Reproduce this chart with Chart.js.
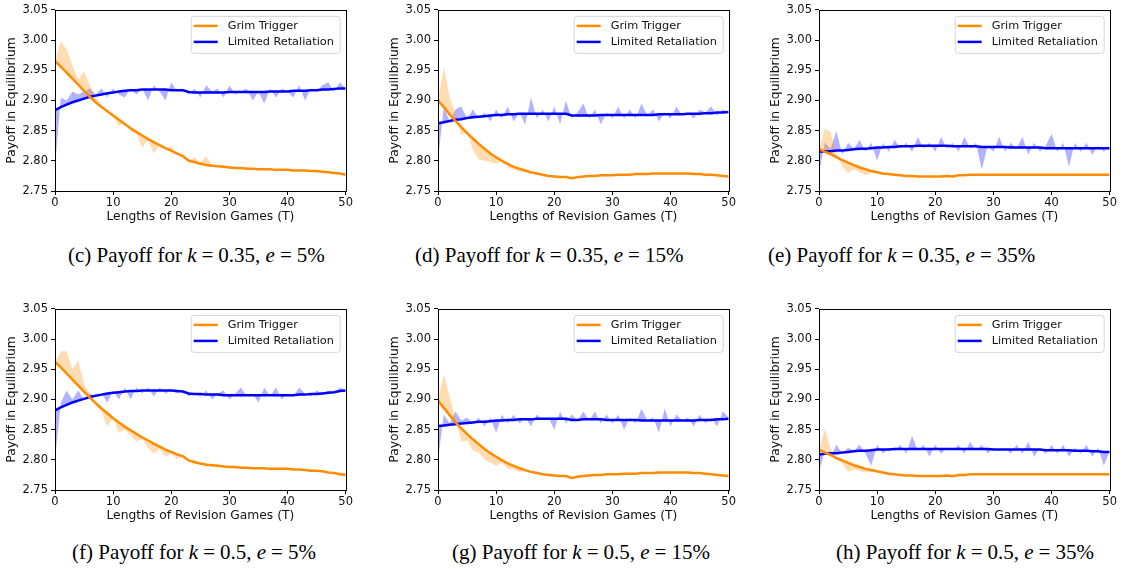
<!DOCTYPE html>
<html>
<head>
<meta charset="utf-8">
<script src="https://cdn.jsdelivr.net/npm/chart.js@4.4.0/dist/chart.umd.min.js"></script>
<style>
  body { margin: 0; background: #fff; width: 1131px; height: 569px; position: relative; overflow: hidden; }
  .panel { position: absolute; }
  .cap { position: absolute; font-family: "Liberation Serif", serif; font-size: 21px; white-space: nowrap; color: #000; }
  .cap .eq { padding: 0 5px; }
</style>
</head>
<body>
<div class="panel" id="pc"><canvas id="cc"></canvas></div>
<div class="panel" id="pd"><canvas id="cd"></canvas></div>
<div class="panel" id="pe"><canvas id="ce"></canvas></div>
<div class="panel" id="pf"><canvas id="cf"></canvas></div>
<div class="panel" id="pg"><canvas id="cg"></canvas></div>
<div class="panel" id="ph"><canvas id="ch"></canvas></div>

<div class="cap" style="left:68px;top:243px">(c) Payoff for <i>k</i><span class="eq">=</span>0.35, <i>e</i><span class="eq">=</span>5%</div>
<div class="cap" style="left:415px;top:243px">(d) Payoff for <i>k</i><span class="eq">=</span>0.35, <i>e</i><span class="eq">=</span>15%</div>
<div class="cap" style="left:768px;top:243px">(e) Payoff for <i>k</i><span class="eq">=</span>0.35, <i>e</i><span class="eq">=</span>35%</div>
<div class="cap" style="left:72px;top:540px">(f) Payoff for <i>k</i><span class="eq">=</span>0.5, <i>e</i><span class="eq">=</span>5%</div>
<div class="cap" style="left:452px;top:540px">(g) Payoff for <i>k</i><span class="eq">=</span>0.5, <i>e</i><span class="eq">=</span>15%</div>
<div class="cap" style="left:836px;top:540px">(h) Payoff for <i>k</i><span class="eq">=</span>0.5, <i>e</i><span class="eq">=</span>35%</div>

<script>
const lengthsT = [0,1,2,3,4,5,6,7,8,9,10,11,12,13,14,15,16,17,18,19,20,21,22,23,24,25,
  26,27,28,29,30,31,32,33,34,35,36,37,38,39,40,41,42,43,44,45,46,47,48,49,50];
const xTicks = [0, 10, 20, 30, 40, 50];
const yTicks = [2.75, 2.80, 2.85, 2.90, 2.95, 3.00, 3.05];
const seriesNames = ['Grim Trigger', 'Limited Retaliation'];

// (c) k = 0.35, e = 5%
const gtLineC = [2.965,2.956,2.946,2.936,2.926,2.916,2.906,2.897,2.889,2.882,
  2.875,2.868,2.861,2.854,2.848,2.842,2.836,2.831,2.826,2.821,
  2.817,2.812,2.808,2.800,2.798,2.795,2.793,2.792,2.791,2.790,
  2.789,2.788,2.788,2.787,2.787,2.786,2.786,2.786,2.785,2.785,
  2.785,2.784,2.784,2.784,2.783,2.783,2.782,2.781,2.780,2.779,2.777];
const gtRawC = [2.965,2.998,2.985,2.958,2.935,2.948,2.925,2.905,2.892,2.880,
  2.872,2.858,2.862,2.848,2.845,2.822,2.835,2.812,2.826,2.818,
  2.825,2.810,2.806,2.800,2.806,2.797,2.808,2.794,2.790,2.793,
  2.788,2.789,2.787,2.789,2.786,2.785,2.787,2.785,2.786,2.784,
  2.786,2.783,2.785,2.782,2.784,2.782,2.781,2.782,2.779,2.780,2.777];
const lrLineC = [2.884,2.889,2.893,2.897,2.900,2.903,2.906,2.908,2.910,2.912,
  2.913,2.915,2.916,2.917,2.917,2.918,2.918,2.918,2.918,2.918,
  2.917,2.917,2.917,2.914,2.913,2.913,2.913,2.913,2.913,2.913,
  2.914,2.914,2.914,2.914,2.914,2.914,2.914,2.915,2.915,2.915,
  2.915,2.916,2.916,2.916,2.917,2.917,2.918,2.918,2.919,2.920,2.920];
const lrRawC = [2.790,2.905,2.900,2.915,2.910,2.915,2.920,2.910,2.920,2.905,
  2.920,2.910,2.905,2.920,2.910,2.920,2.900,2.925,2.915,2.900,
  2.930,2.915,2.920,2.910,2.920,2.905,2.925,2.915,2.920,2.905,
  2.925,2.910,2.915,2.920,2.900,2.915,2.895,2.920,2.905,2.920,
  2.915,2.905,2.925,2.900,2.920,2.915,2.925,2.930,2.915,2.930,2.920];

// (d) k = 0.35, e = 15%
const gtLineD = [2.900,2.889,2.877,2.866,2.856,2.846,2.837,2.828,2.820,2.812,
  2.806,2.800,2.795,2.790,2.787,2.784,2.781,2.779,2.777,2.775,
  2.774,2.773,2.773,2.771,2.773,2.774,2.775,2.775,2.776,2.776,
  2.776,2.777,2.777,2.777,2.778,2.778,2.778,2.779,2.779,2.779,
  2.779,2.779,2.779,2.779,2.778,2.778,2.777,2.777,2.776,2.775,2.774];
const gtRawD = [2.900,2.955,2.905,2.880,2.842,2.850,2.818,2.802,2.800,2.798,
  2.795,2.800,2.789,2.785,2.782,2.781,2.778,2.780,2.775,2.776,
  2.776,2.775,2.774,2.771,2.775,2.774,2.776,2.775,2.777,2.776,
  2.777,2.777,2.778,2.777,2.778,2.778,2.779,2.779,2.779,2.780,
  2.779,2.780,2.779,2.779,2.778,2.778,2.777,2.777,2.776,2.775,2.774];
const lrLineD = [2.862,2.864,2.866,2.868,2.869,2.871,2.872,2.873,2.874,2.875,
  2.876,2.876,2.877,2.877,2.878,2.878,2.878,2.878,2.878,2.878,
  2.878,2.878,2.878,2.875,2.875,2.875,2.875,2.875,2.876,2.876,
  2.876,2.876,2.876,2.876,2.876,2.876,2.876,2.876,2.877,2.877,
  2.877,2.877,2.877,2.878,2.878,2.878,2.879,2.879,2.880,2.880,2.881];
const lrRawD = [2.800,2.890,2.865,2.885,2.890,2.870,2.885,2.870,2.880,2.865,
  2.885,2.870,2.890,2.865,2.880,2.860,2.905,2.870,2.885,2.865,
  2.890,2.860,2.900,2.870,2.880,2.895,2.870,2.885,2.860,2.880,
  2.870,2.890,2.870,2.885,2.870,2.895,2.875,2.885,2.865,2.880,
  2.870,2.890,2.875,2.880,2.870,2.885,2.880,2.890,2.875,2.885,2.880];

// (e) k = 0.35, e = 35%
const gtLineE = [2.820,2.815,2.811,2.806,2.801,2.797,2.793,2.789,2.786,2.783,
  2.781,2.779,2.778,2.777,2.776,2.775,2.775,2.774,2.774,2.774,
  2.774,2.774,2.775,2.774,2.776,2.776,2.777,2.777,2.777,2.777,
  2.777,2.777,2.777,2.777,2.777,2.777,2.777,2.777,2.777,2.777,
  2.777,2.777,2.777,2.777,2.777,2.777,2.777,2.777,2.777,2.777,2.777];
const gtRawE = [2.820,2.853,2.848,2.812,2.790,2.780,2.786,2.781,2.776,2.780,
  2.779,2.777,2.776,2.776,2.775,2.774,2.774,2.773,2.773,2.773,
  2.774,2.774,2.774,2.774,2.775,2.776,2.776,2.777,2.778,2.777,
  2.778,2.777,2.778,2.778,2.777,2.778,2.777,2.778,2.778,2.777,
  2.778,2.777,2.778,2.777,2.778,2.778,2.777,2.778,2.777,2.778,2.777];
const lrLineE = [2.815,2.816,2.816,2.817,2.817,2.818,2.819,2.820,2.820,2.821,
  2.822,2.822,2.823,2.823,2.824,2.824,2.824,2.825,2.825,2.825,
  2.825,2.825,2.825,2.824,2.824,2.824,2.824,2.824,2.823,2.823,
  2.823,2.823,2.823,2.822,2.822,2.822,2.822,2.822,2.822,2.821,
  2.821,2.821,2.821,2.821,2.821,2.821,2.821,2.821,2.821,2.821,2.821];
const lrRawE = [2.780,2.830,2.820,2.850,2.810,2.830,2.820,2.835,2.815,2.830,
  2.800,2.830,2.815,2.835,2.820,2.830,2.815,2.840,2.820,2.830,
  2.815,2.840,2.820,2.830,2.815,2.840,2.820,2.830,2.785,2.825,
  2.815,2.840,2.815,2.830,2.820,2.840,2.810,2.830,2.815,2.825,
  2.845,2.815,2.830,2.790,2.830,2.815,2.830,2.810,2.825,2.815,2.825];

// (f) k = 0.5, e = 5%
const gtLineF = [2.962,2.953,2.943,2.933,2.923,2.913,2.903,2.894,2.885,2.877,
  2.869,2.862,2.855,2.849,2.843,2.837,2.832,2.827,2.822,2.817,
  2.813,2.809,2.806,2.799,2.796,2.794,2.792,2.791,2.790,2.789,
  2.788,2.788,2.787,2.787,2.786,2.786,2.786,2.785,2.785,2.785,
  2.785,2.784,2.784,2.783,2.782,2.782,2.781,2.779,2.778,2.776,2.775];
const gtRawF = [2.962,2.980,2.980,2.950,2.965,2.925,2.910,2.890,2.880,2.855,
  2.870,2.845,2.850,2.840,2.830,2.835,2.820,2.810,2.818,2.805,
  2.810,2.802,2.805,2.797,2.800,2.792,2.795,2.790,2.793,2.787,
  2.790,2.787,2.789,2.786,2.787,2.785,2.787,2.784,2.786,2.783,
  2.786,2.783,2.784,2.782,2.783,2.781,2.781,2.778,2.777,2.779,2.779];
const lrLineF = [2.882,2.887,2.891,2.895,2.898,2.901,2.904,2.906,2.908,2.910,
  2.911,2.912,2.913,2.914,2.914,2.915,2.915,2.915,2.915,2.915,
  2.915,2.914,2.913,2.910,2.909,2.909,2.908,2.908,2.908,2.907,
  2.907,2.907,2.907,2.907,2.907,2.907,2.907,2.907,2.907,2.907,
  2.907,2.907,2.908,2.908,2.909,2.909,2.910,2.911,2.912,2.914,2.915];
const lrRawF = [2.800,2.895,2.915,2.900,2.915,2.900,2.910,2.905,2.910,2.895,
  2.915,2.900,2.920,2.900,2.920,2.910,2.920,2.905,2.920,2.910,
  2.915,2.910,2.915,2.905,2.910,2.905,2.915,2.900,2.910,2.915,
  2.900,2.910,2.920,2.905,2.910,2.895,2.920,2.905,2.920,2.900,
  2.910,2.905,2.920,2.910,2.905,2.915,2.910,2.915,2.910,2.920,2.915];

// (g) k = 0.5, e = 15%
const gtLineG = [2.898,2.886,2.874,2.862,2.852,2.843,2.834,2.826,2.818,2.811,
  2.805,2.799,2.794,2.790,2.786,2.783,2.780,2.778,2.776,2.775,
  2.774,2.773,2.773,2.770,2.772,2.773,2.774,2.775,2.775,2.776,
  2.776,2.776,2.777,2.777,2.777,2.778,2.778,2.778,2.779,2.779,
  2.779,2.779,2.779,2.779,2.778,2.778,2.777,2.776,2.775,2.774,2.773];
const gtRawG = [2.898,2.942,2.905,2.868,2.830,2.832,2.815,2.812,2.800,2.795,
  2.790,2.795,2.785,2.784,2.780,2.781,2.778,2.781,2.776,2.777,
  2.775,2.775,2.774,2.770,2.774,2.774,2.775,2.776,2.776,2.777,
  2.776,2.777,2.777,2.778,2.777,2.778,2.779,2.778,2.779,2.780,
  2.779,2.780,2.779,2.780,2.778,2.779,2.777,2.777,2.775,2.775,2.773];
const lrLineG = [2.856,2.857,2.858,2.859,2.860,2.861,2.862,2.863,2.863,2.864,
  2.865,2.865,2.866,2.866,2.867,2.867,2.867,2.868,2.868,2.868,
  2.868,2.868,2.868,2.866,2.866,2.867,2.867,2.867,2.867,2.866,
  2.866,2.866,2.866,2.866,2.866,2.865,2.865,2.865,2.865,2.865,
  2.865,2.865,2.865,2.865,2.865,2.866,2.866,2.866,2.867,2.867,2.868];
const lrRawG = [2.800,2.875,2.860,2.880,2.865,2.870,2.860,2.870,2.855,2.870,
  2.845,2.875,2.860,2.875,2.860,2.870,2.855,2.875,2.865,2.870,
  2.850,2.880,2.860,2.875,2.865,2.880,2.865,2.880,2.860,2.875,
  2.860,2.875,2.850,2.870,2.860,2.885,2.865,2.870,2.845,2.885,
  2.855,2.875,2.865,2.870,2.855,2.875,2.860,2.870,2.855,2.880,2.870];

// (h) k = 0.5, e = 35%
const gtLineH = [2.817,2.812,2.808,2.803,2.799,2.795,2.791,2.788,2.785,2.783,
  2.781,2.779,2.777,2.776,2.775,2.774,2.774,2.773,2.773,2.773,
  2.773,2.773,2.774,2.773,2.775,2.775,2.776,2.776,2.776,2.776,
  2.776,2.776,2.776,2.776,2.776,2.776,2.776,2.776,2.776,2.776,
  2.776,2.776,2.776,2.776,2.776,2.776,2.776,2.776,2.776,2.776,2.776];
const gtRawH = [2.817,2.852,2.818,2.800,2.794,2.780,2.784,2.782,2.779,2.780,
  2.779,2.777,2.776,2.775,2.774,2.773,2.773,2.772,2.772,2.772,
  2.773,2.773,2.773,2.773,2.774,2.775,2.776,2.777,2.776,2.777,
  2.777,2.776,2.777,2.777,2.776,2.777,2.777,2.776,2.777,2.777,
  2.776,2.777,2.777,2.776,2.777,2.777,2.776,2.777,2.777,2.776,2.776];
const lrLineH = [2.809,2.810,2.811,2.811,2.812,2.813,2.814,2.815,2.815,2.816,
  2.817,2.817,2.817,2.818,2.818,2.818,2.818,2.818,2.818,2.818,
  2.818,2.818,2.818,2.818,2.818,2.818,2.818,2.818,2.818,2.818,
  2.817,2.817,2.817,2.817,2.817,2.817,2.817,2.817,2.817,2.816,
  2.816,2.816,2.816,2.816,2.815,2.815,2.815,2.814,2.814,2.813,2.813];
const lrRawH = [2.780,2.815,2.805,2.825,2.810,2.820,2.815,2.825,2.810,2.790,
  2.825,2.810,2.820,2.815,2.825,2.810,2.840,2.815,2.825,2.805,
  2.825,2.810,2.820,2.815,2.825,2.810,2.830,2.815,2.825,2.810,
  2.820,2.815,2.820,2.810,2.825,2.810,2.830,2.805,2.820,2.810,
  2.825,2.810,2.825,2.805,2.820,2.810,2.825,2.805,2.820,2.790,2.815];

const ORANGE = '#ff8c00';
const BLUE = '#0000ff';
const FONT = '"DejaVu Sans", sans-serif';
const Y_AXIS_W = 55, X_AXIS_H = 34, PAD_TOP = 7, PAD_RIGHT = 4;
const PLOT_W = 295, PLOT_H = 184;

// axes box + matplotlib-like legend in the upper right
const frameLegend = {
  id: 'frameLegend',
  afterDatasetsDraw(chart) {
    const { ctx, chartArea: a } = chart;
    ctx.save();
    ctx.strokeStyle = '#000';
    ctx.lineWidth = 1;
    ctx.strokeRect(Math.round(a.left) + 0.5, Math.round(a.top) + 0.5,
      Math.round(a.right - a.left), Math.round(a.bottom - a.top));

    const w = 149, h = 37;
    const x0 = a.right - 6 - w, y0 = a.top + 6;
    ctx.beginPath();
    ctx.roundRect(x0 + 0.5, y0 + 0.5, w, h, 3);
    ctx.fillStyle = 'rgba(255,255,255,0.8)';
    ctx.fill();
    ctx.strokeStyle = '#d6d6d6';
    ctx.stroke();

    ctx.font = '11.3px ' + FONT;
    ctx.textBaseline = 'middle';
    seriesNames.forEach((name, i) => {
      const yy = y0 + 10 + i * 16;
      ctx.strokeStyle = i === 0 ? ORANGE : BLUE;
      ctx.lineWidth = 2.5;
      ctx.beginPath();
      ctx.moveTo(x0 + 3, yy);
      ctx.lineTo(x0 + 27, yy);
      ctx.stroke();
      ctx.fillStyle = '#111';
      ctx.fillText(name, x0 + 37, yy + 0.5);
    });
    ctx.restore();
  }
};

function pts(arr) {
  return lengthsT.map((t, i) => ({ x: t, y: arr[i] }));
}

function makePanel(id, plotLeft, plotTop, gtLine, gtRaw, lrLine, lrRaw) {
  const box = document.getElementById('p' + id);
  box.style.left = (plotLeft - Y_AXIS_W) + 'px';
  box.style.top = (plotTop - PAD_TOP) + 'px';
  box.style.width = (Y_AXIS_W + PLOT_W + PAD_RIGHT) + 'px';
  box.style.height = (PAD_TOP + PLOT_H + X_AXIS_H) + 'px';

  new Chart(document.getElementById('c' + id), {
    type: 'line',
    data: {
      datasets: [
        { label: seriesNames[0], data: pts(gtLine), borderColor: ORANGE, borderWidth: 2.5, pointRadius: 0, fill: false },
        { label: seriesNames[1], data: pts(lrLine), borderColor: BLUE, borderWidth: 2.5, pointRadius: 0, fill: false },
        { data: pts(gtRaw), borderWidth: 0, pointRadius: 0, backgroundColor: 'rgba(255,140,0,0.3)', fill: 0 },
        { data: pts(lrRaw), borderWidth: 0, pointRadius: 0, backgroundColor: 'rgba(0,0,255,0.3)', fill: 1 }
      ]
    },
    plugins: [frameLegend],
    options: {
      responsive: true,
      maintainAspectRatio: false,
      animation: false,
      events: [],
      layout: { padding: { top: PAD_TOP, right: PAD_RIGHT, left: 0, bottom: 0 } },
      plugins: { legend: { display: false }, tooltip: { enabled: false } },
      scales: {
        x: {
          type: 'linear', min: 0, max: 50,
          afterFit: s => { s.height = X_AXIS_H; },
          afterBuildTicks: s => { s.ticks = xTicks.map(v => ({ value: v })); },
          ticks: { color: '#111', font: { family: FONT, size: 11.5 }, padding: 1, maxRotation: 0 },
          grid: { drawOnChartArea: false, drawTicks: true, tickLength: 4, color: '#000', tickColor: '#000' },
          border: { display: false },
          title: { display: true, text: 'Lengths of Revision Games (T)', color: '#111',
            font: { family: FONT, size: 12.3 }, padding: { top: 0, bottom: 1 } }
        },
        y: {
          min: 2.75, max: 3.05,
          afterFit: s => { s.width = Y_AXIS_W; },
          afterBuildTicks: s => { s.ticks = yTicks.map(v => ({ value: v })); },
          ticks: { color: '#111', font: { family: FONT, size: 11.5 }, padding: 3,
            callback: v => Number(v).toFixed(2) },
          grid: { drawOnChartArea: false, drawTicks: true, tickLength: 4, color: '#000', tickColor: '#000' },
          border: { display: false },
          title: { display: true, text: 'Payoff in Equilibrium', color: '#111',
            font: { family: FONT, size: 12.3 }, padding: { top: 4, bottom: 0 } }
        }
      }
    }
  });
}

makePanel('c', 55, 7, gtLineC, gtRawC, lrLineC, lrRawC);
makePanel('d', 437.7, 7, gtLineD, gtRawD, lrLineD, lrRawD);
makePanel('e', 819.3, 7, gtLineE, gtRawE, lrLineE, lrRawE);
makePanel('f', 55, 305.7, gtLineF, gtRawF, lrLineF, lrRawF);
makePanel('g', 437.7, 305.7, gtLineG, gtRawG, lrLineG, lrRawG);
makePanel('h', 819.3, 305.7, gtLineH, gtRawH, lrLineH, lrRawH);
</script>
</body>
</html>
